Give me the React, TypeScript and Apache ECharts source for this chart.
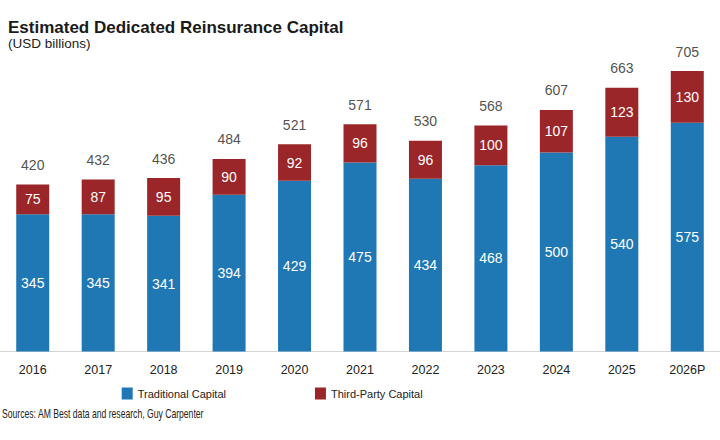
import React, { useEffect, useRef } from "react";
import * as echarts from "echarts";

const years = ["2016", "2017", "2018", "2019", "2020", "2021", "2022", "2023", "2024", "2025", "2026P"];
const traditional = [345, 345, 341, 394, 429, 475, 434, 468, 500, 540, 575];
const thirdParty = [75, 87, 95, 90, 92, 96, 96, 100, 107, 123, 130];
const totals = [420, 432, 436, 484, 521, 571, 530, 568, 607, 663, 705];

const BLUE = "#1f77b4";
const RED = "#9a2629";
const SANS = "'Liberation Sans', Arial, Helvetica, sans-serif";

export default function App() {
  const ref = useRef<HTMLDivElement>(null);
  useEffect(() => {
    if (!ref.current) return;
    const chart = echarts.init(ref.current, null, { renderer: "svg" });
    chart.setOption({
      animation: false,
      backgroundColor: "#ffffff",
      textStyle: { fontFamily: SANS },
      graphic: [
        {
          type: "text",
          x: 8,
          y: 27,
          style: {
            text: "Estimated Dedicated Reinsurance Capital",
            font: `bold 17px ${SANS}`,
            fill: "#1a1a1a",
            verticalAlign: "middle",
          },
        },
        {
          type: "text",
          x: 8,
          y: 43,
          style: { text: "(USD billions)", font: `13.5px ${SANS}`, fill: "#222", verticalAlign: "middle" },
        },
        {
          type: "text",
          x: 2,
          y: 413,
          scaleX: 0.69,
          style: {
            text: "Sources: AM Best data and research, Guy Carpenter",
            font: `12.5px ${SANS}`,
            fill: "#222",
            verticalAlign: "middle",
          },
        },
      ],
      legend: {
        data: ["Traditional Capital", "Third-Party Capital"],
        left: 121.7,
        top: 387.5,
        padding: 0,
        itemWidth: 11,
        itemHeight: 12,
        itemGap: 89,
        icon: "rect",
        textStyle: { fontFamily: SANS, fontSize: 11, color: "#222" },
      },
      grid: { left: 0, right: -10, top: 71, bottom: 88.5, containLabel: false },
      xAxis: {
        type: "category",
        data: years,
        axisLine: { lineStyle: { color: "#d4d4d4", width: 1 } },
        axisTick: { show: false },
        axisLabel: { fontFamily: SANS, fontSize: 12.5, color: "#222", margin: 12 },
      },
      yAxis: { type: "value", min: 0, max: 705, show: false, splitLine: { show: false } },
      series: [
        {
          name: "Traditional Capital",
          type: "bar",
          stack: "cap",
          data: traditional,
          barWidth: 33,
          itemStyle: { color: BLUE },
          label: { show: true, position: "inside", color: "#fff", fontSize: 14, fontFamily: SANS },
        },
        {
          name: "Third-Party Capital",
          type: "bar",
          stack: "cap",
          data: thirdParty,
          barWidth: 33,
          itemStyle: { color: RED },
          label: { show: true, position: "inside", color: "#fff", fontSize: 14, fontFamily: SANS },
        },
        {
          name: "Total",
          type: "scatter",
          data: totals,
          symbol: "rect",
          symbolSize: 1,
          silent: true,
          itemStyle: { color: "rgba(0,0,0,0)" },
          label: { show: true, position: "top", distance: 12, color: "#222", fontSize: 14, fontFamily: SANS },
        },
      ],
    });
    return () => chart.dispose();
  }, []);
  return <div ref={ref} style={{ position: "absolute", left: 0, top: 0, width: 720, height: 440 }} />;
}
